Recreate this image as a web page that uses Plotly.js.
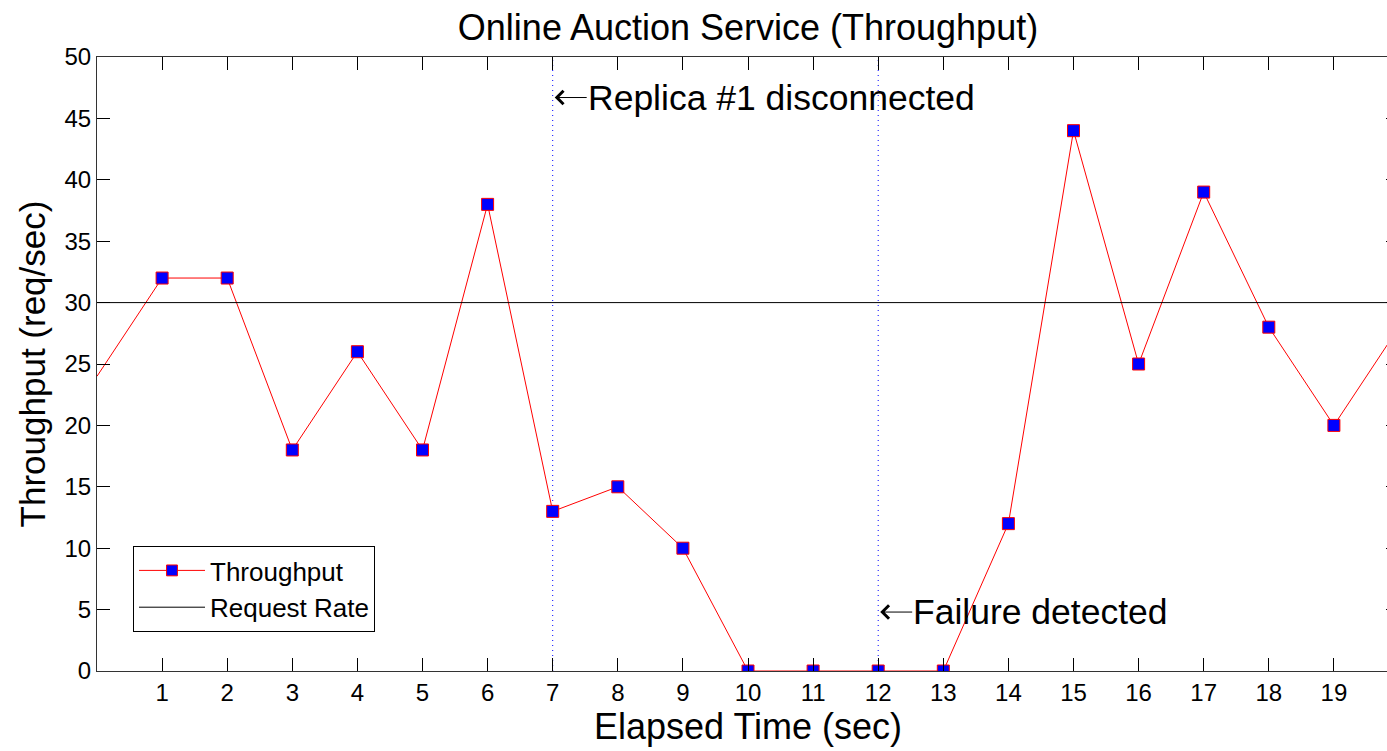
<!DOCTYPE html>
<html>
<head>
<meta charset="utf-8">
<script src="https://cdn.plot.ly/plotly-3.0.1.min.js"></script>
<style>
html, body { margin: 0; padding: 0; overflow: hidden; background: #fff; }
#chart { width: 1420px; height: 751px; }
</style>
</head>
<body>
<div id="chart"></div>
<script>
// ---- data ----
const elapsedTime = [0, 1, 2, 3, 4, 5, 6, 7, 8, 9, 10, 11, 12, 13, 14, 15, 16, 17, 18, 19, 20];
const throughput  = [24, 32, 32, 18, 26, 18, 38, 13, 15, 10, 0, 0, 0, 0, 12, 44, 25, 39, 28, 20, 28];
const requestRate = 30;
const xTickValues = [1, 2, 3, 4, 5, 6, 7, 8, 9, 10, 11, 12, 13, 14, 15, 16, 17, 18, 19];
const yTickValues = [0, 5, 10, 15, 20, 25, 30, 35, 40, 45, 50];
const eventTimes  = [7, 12];
const eventLabels = ["Replica #1 disconnected", "Failure detected"];
const eventLabelY = [46.7, 4.8];
const seriesNames = ["Throughput", "Request Rate"];

const FONT = "'Liberation Sans', Arimo, Arial, sans-serif";

// markers only for the sampled points inside the labelled time span
const markerSizes = elapsedTime.map(t => (t >= xTickValues[0] && t <= xTickValues[xTickValues.length - 1]) ? 12 : 0);

const traces = [
  {
    x: elapsedTime,
    y: throughput,
    name: seriesNames[0],
    mode: "lines+markers",
    line: { color: "#ff0000", width: 1 },
    marker: { symbol: "square", size: markerSizes, opacity: 1, color: "#0000ff", line: { color: "#ff0000", width: 1 } },
    cliponaxis: true
  },
  {
    x: [elapsedTime[0], elapsedTime[elapsedTime.length - 1]],
    y: [requestRate, requestRate],
    name: seriesNames[1],
    mode: "lines",
    line: { color: "#000000", width: 1 }
  }
];

const shapes = eventTimes.map(t => ({
  type: "line", xref: "x", yref: "paper",
  x0: t, x1: t, y0: 0, y1: 1,
  line: { color: "#0000ff", width: 1, dash: "1px,4px" },
  layer: "below"
}));

const annotations = eventTimes.map((t, i) => ({
  x: t, y: eventLabelY[i], xref: "x", yref: "y",
  text: eventLabels[i],
  showarrow: true, arrowhead: 4, arrowsize: 2.6, arrowwidth: 1, arrowcolor: "#000",
  ax: 34, ay: 0, standoff: 2, borderpad: 0,
  xanchor: "left", yanchor: "middle",
  font: { family: FONT, size: 35.5, color: "#000" }
}));

const layout = {
  width: 1420,
  height: 751,
  margin: { l: 97, r: 21, t: 57, b: 80 },
  paper_bgcolor: "#ffffff",
  plot_bgcolor: "#ffffff",
  font: { family: FONT, color: "#000" },
  title: {
    text: "Online Auction Service (Throughput)",
    font: { family: FONT, size: 36, color: "#000" },
    x: 0.5, xref: "paper", xanchor: "center",
    y: 1 - 27 / 751, yref: "container", yanchor: "middle"
  },
  xaxis: {
    range: [elapsedTime[0], elapsedTime[elapsedTime.length - 1]],
    tickmode: "array",
    tickvals: xTickValues,
    ticktext: xTickValues.map(String),
    ticks: "inside", ticklen: 13, tickwidth: 1, tickcolor: "#000",
    showline: true, linecolor: "#333", linewidth: 1, mirror: "ticks",
    showgrid: false, zeroline: false,
    tickfont: { family: FONT, size: 24, color: "#000" },
    title: { text: "Elapsed Time (sec)", font: { family: FONT, size: 36, color: "#000" }, standoff: 0 }
  },
  yaxis: {
    range: [0, 50],
    tickmode: "array",
    tickvals: yTickValues,
    ticktext: yTickValues.map(String),
    ticks: "inside", ticklen: 13, tickwidth: 1, tickcolor: "#000",
    showline: true, linecolor: "#333", linewidth: 1, mirror: "ticks",
    showgrid: false, zeroline: false,
    tickfont: { family: FONT, size: 24, color: "#000" },
    title: { text: "Throughput (req/sec)", font: { family: FONT, size: 35, color: "#000" }, standoff: 8 }
  },
  showlegend: true,
  legend: {
    x: (133 - 97) / 1302, y: (671 - 546) / 614,
    xanchor: "left", yanchor: "top",
    bgcolor: "#ffffff", bordercolor: "#000", borderwidth: 1,
    font: { family: FONT, size: 26, color: "#000" },
    itemwidth: 66,
    tracegroupgap: 0
  },
  shapes: shapes,
  annotations: annotations
};

Plotly.newPlot("chart", traces, layout, { displayModeBar: false, staticPlot: true });
</script>
</body>
</html>
